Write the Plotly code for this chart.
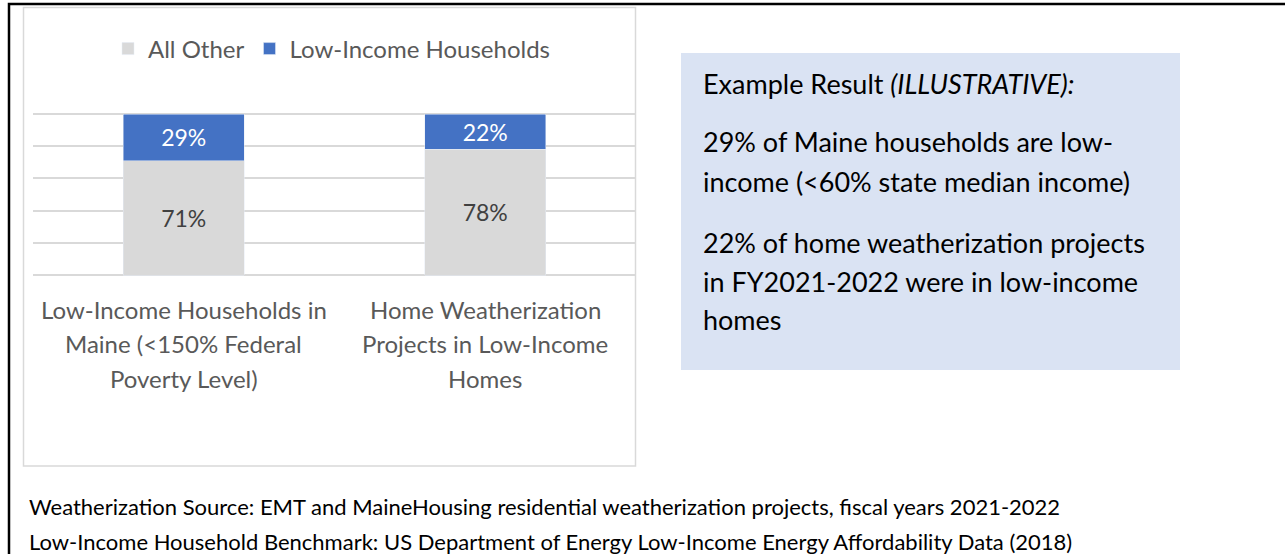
import plotly.graph_objects as go

W, H = 1285, 554

categories = ["Low-Income Households in Maine", "Home Weatherization Projects"]
cat_lines = [
    ["Low-Income Households in", "Maine (&lt;150% Federal", "Poverty Level)"],
    ["Home Weatherization", "Projects in Low-Income", "Homes"],
]
all_other = [0.71, 0.78]
low_income = [0.29, 0.22]
grid_vals = [0, 0.2, 0.4, 0.6, 0.8, 1.0]

box_lines = [
    "Example Result <i>(ILLUSTRATIVE):</i>",
    "29% of Maine households are low-",
    "income (&lt;60% state median income)",
    "22% of home weatherization projects",
    "in FY2021-2022 were in low-income",
    "homes",
]
footer_lines = [
    "Weatherization Source: EMT and MaineHousing residential weatherization projects, fiscal years 2021-2022",
    "Low-Income Household Benchmark: US Department of Energy Low-Income Energy Affordability Data (2018)",
]

GREY = "#D9D9D9"
BLUE = "#4472C4"
TXT = "#595959"
FONT = "Lato, 'Open Sans', sans-serif"


def px_x(v):
    return v / W


def px_y(v):
    return 1 - v / H


fig = go.Figure()
fig.add_trace(go.Bar(
    x=categories, y=all_other, name="All Other", marker_color=GREY,
    width=0.4, text=[f"{v:.0%}" for v in all_other], textposition="inside",
    insidetextanchor="middle", textfont=dict(size=23, color="#404040", family=FONT),
))
fig.add_trace(go.Bar(
    x=categories, y=low_income, name="Low-Income Households", marker_color=BLUE,
    width=0.4, text=[f"{v:.0%}" for v in low_income], textposition="inside",
    insidetextanchor="middle", textfont=dict(size=23, color="white", family=FONT),
))

# plot area: 0 -> y=275px, 1 -> y=114px; pad the range so the end gridlines are drawn
pad = 0.03
span = 161
fig.update_layout(
    width=W, height=H, autosize=False,
    margin=dict(l=0, r=0, t=0, b=0),
    paper_bgcolor="white", plot_bgcolor="white",
    barmode="stack", font=dict(family=FONT, color=TXT),
    showlegend=True,
    legend=dict(orientation="h", x=px_x(332), xanchor="center", y=px_y(49), yanchor="middle",
                font=dict(size=24, color=TXT), traceorder="normal", itemclick=False),
    xaxis=dict(domain=[px_x(33), px_x(636)], range=[-0.5, 1.5], showticklabels=False,
               showgrid=False, zeroline=False, showline=False, fixedrange=True),
    yaxis=dict(domain=[px_y(275 + pad * span), px_y(114 - pad * span)], range=[-pad, 1 + pad],
               tickvals=grid_vals, showticklabels=False, showgrid=True, gridcolor=GREY,
               gridwidth=1.5, zeroline=False, fixedrange=True),
)

shapes = [
    dict(type="rect", xref="paper", yref="paper", x0=px_x(9), x1=px_x(1300), y0=px_y(4), y1=px_y(570),
         line=dict(color="black", width=2.5)),
    dict(type="rect", xref="paper", yref="paper", x0=px_x(23.5), x1=px_x(635.5), y0=px_y(7.5), y1=px_y(466),
         line=dict(color=GREY, width=1.5)),
    dict(type="rect", xref="paper", yref="paper", x0=px_x(681), x1=px_x(1180), y0=px_y(53), y1=px_y(370),
         fillcolor="#DAE3F3", line=dict(width=0), layer="below"),
]
fig.update_layout(shapes=shapes)

# category labels, one annotation per line
for i, lines in enumerate(cat_lines):
    for j, line in enumerate(lines):
        fig.add_annotation(x=categories[i], xref="x", y=px_y(309 + 34.5 * j), yref="paper",
                           text=line, showarrow=False, xanchor="center", yanchor="middle",
                           font=dict(size=24, color=TXT, family=FONT))

box_y = [83, 141, 181, 242, 281, 319]
for line, yy in zip(box_lines, box_y):
    fig.add_annotation(x=px_x(701), xref="paper", y=px_y(yy), yref="paper", text=line,
                       showarrow=False, xanchor="left", yanchor="middle",
                       font=dict(size=27, color="black", family=FONT))

for line, yy in zip(footer_lines, [506, 541]):
    fig.add_annotation(x=px_x(27), xref="paper", y=px_y(yy), yref="paper", text=line,
                       showarrow=False, xanchor="left", yanchor="middle",
                       font=dict(size=22, color="black", family=FONT))

fig.write_html("out.html", config={"displayModeBar": False},
               post_script="document.body.style.margin='0';document.body.style.overflow='hidden';")
